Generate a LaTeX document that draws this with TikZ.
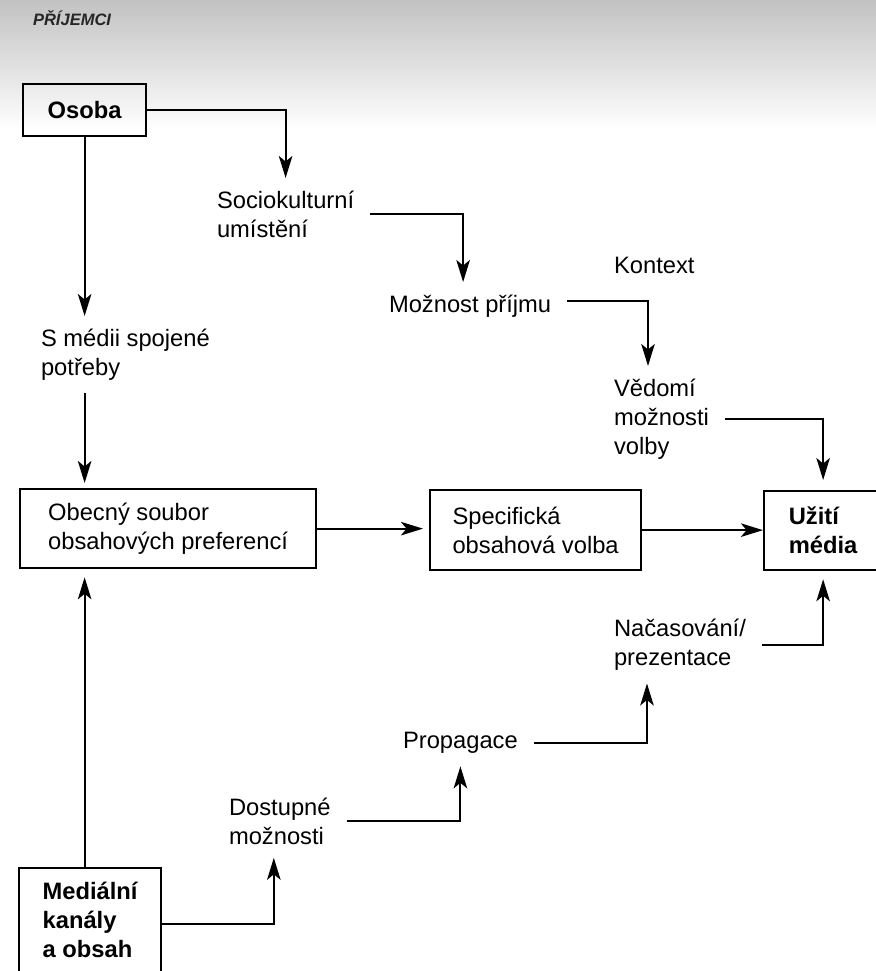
\documentclass[tikz,border=0pt]{standalone}
\usepackage{fontspec}
\setmainfont{Liberation Sans}
\usetikzlibrary{positioning,arrows.meta}

\begin{document}
\begin{tikzpicture}[x=0.02cm, y=-0.02cm, line width=1.2pt,
                    >={Stealth[length=0.44cm, width=0.27cm, inset=0.11cm]},
                    every node/.style={align=left, font=\fontsize{13.5}{16.5}\selectfont},
                    lbl/.style={anchor=north west, inner xsep=0.3cm, inner ysep=0.24cm},
                    box/.style={draw, line width=1.3pt, anchor=north west}]
\clip (0,0) rectangle (876,971);
\fill[white] (0,0) rectangle (876,971);
\shade[top color=black!24, bottom color=white] (0,0) rectangle (876,130);
\node[anchor=base west, inner sep=0, font=\fontsize{9.4}{11}\selectfont\bfseries\itshape, text=black!85] (titulek) at (32,25) {PŘÍJEMCI};
% boxes
\node[box, align=center, minimum width=2.46cm, minimum height=1.04cm, font=\fontsize{13.5}{16.5}\selectfont\bfseries] (osoba) at (22,83) {Osoba};
\node[box, minimum width=5.92cm, minimum height=1.58cm] (obecny) at (19,488) {Obecný soubor\\obsahových preferencí};
\node[box, minimum width=4.22cm, minimum height=1.6cm] (specif) at (429,489) {Specifická\\obsahová volba};
\node[box, minimum width=2.36cm, minimum height=1.58cm, font=\fontsize{13.5}{16.5}\selectfont\bfseries] (uziti) at (763,490) {Užití\\média};
\node[box, minimum width=2.84cm, inner ysep=0.27cm, font=\fontsize{13.5}{16.5}\selectfont\bfseries] (kanaly) at (18,867) {\parbox[c][1.7cm][t]{1.9cm}{Mediální\\kanály\\a obsah}};
% labels
\node[lbl] (socio) at (201,178) {Sociokulturní\\umístění};
\node[lbl] (moznost) at (373,282) {Možnost příjmu};
\node[lbl] (kontext) at (598,244) {Kontext};
\node[lbl] (vedomi) at (598,366) {Vědomí\\možnosti\\volby};
\node[lbl] (potreby) at (25,316) {S médii spojené\\potřeby};
\node[lbl] (nacas) at (598,606) {Načasování/\\prezentace};
\node[lbl] (propag) at (387,719) {Propagace};
\node[lbl] (dostup) at (213,785) {Dostupné\\možnosti};
% connectors
\draw[->] (osoba.east) -| (socio.north);
\draw[->] (socio.east) -| ([xshift=-0.14cm]moznost.north);
\draw[->] ([yshift=0.1cm]moznost.east) -| ([xshift=-0.27cm]vedomi.north);
\draw[->, shorten >=0.2cm] (vedomi.east) -| (uziti.north);
\draw[->] (osoba.south) -- (osoba.south |- potreby.north);
\draw[->, shorten >=0.1cm] (osoba.south |- potreby.south) -- (osoba.south |- obecny.north);
\draw[->, shorten >=0.12cm] (obecny.east) -- (obecny.east -| specif.west);
\draw[->] (specif.east) -- (specif.east -| uziti.west);
\draw[->, shorten >=0.16cm] (osoba.south |- kanaly.north) -- (osoba.south |- obecny.south);
\draw[->] (kanaly.east) -| ([xshift=-0.12cm]dostup.south);
\draw[->] (dostup.east) -| (propag.south);
\draw[->] (propag.east) -| ([xshift=-0.66cm]nacas.south);
\draw[->, shorten >=0.16cm] (nacas.east) -| (uziti.south);
\end{tikzpicture}
\end{document}
